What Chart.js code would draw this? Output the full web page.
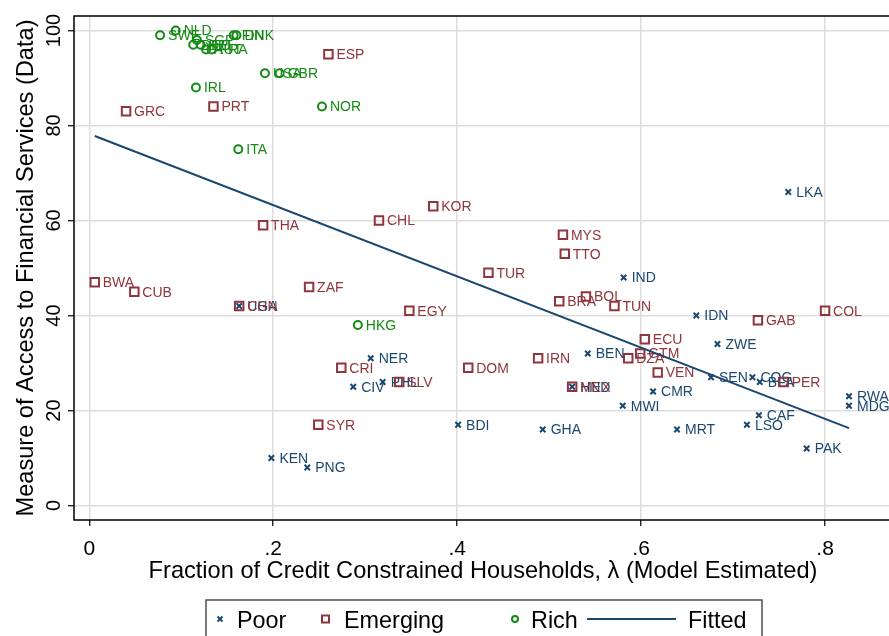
<!DOCTYPE html>
<html lang="en">
<head>
<meta charset="UTF-8" />
<title>Access to Financial Services vs. Credit Constrained Households</title>
<script src="https://cdn.jsdelivr.net/npm/chart.js"></script>
<style>
  html, body { margin: 0; padding: 0; background: #fff; }
  #wrap { width: 889px; height: 636px; }
</style>
</head>
<body>
<div id="wrap"><canvas id="myChart"></canvas></div>
<script>
// Poor economies
const poorNames = ["LKA","IND","IDN","ZWE","BEN","SEN","CMR","MWI","GHA","MRT","COG","BFA","RWA","MDG","CAF","LSO","PAK","NER","CIV","PHL","BDI","KEN","PNG","UGA","HND"];
const poorX = [0.760,0.581,0.660,0.683,0.542,0.676,0.613,0.580,0.493,0.639,0.721,0.729,0.826,0.826,0.728,0.715,0.780,0.306,0.287,0.319,0.401,0.198,0.237,0.163,0.525];
const poorY = [66,48,40,34,32,27,24,21,16,16,27,26,23,21,19,17,12,31,25,26,17,10,8,42,25];

// Emerging economies
const emergingNames = ["GRC","PRT","ESP","THA","BWA","CUB","CHN","ZAF","CHL","KOR","MYS","TTO","TUR","EGY","BRA","BOL","TUN","ECU","GTM","DZA","VEN","IRN","MEX","DOM","CRI","SLV","SYR","GAB","COL","PER"];
const emergingX = [0.040,0.135,0.260,0.189,0.006,0.049,0.163,0.239,0.315,0.374,0.515,0.517,0.434,0.348,0.511,0.540,0.571,0.604,0.599,0.586,0.618,0.488,0.525,0.412,0.274,0.337,0.249,0.727,0.800,0.755];
const emergingY = [83,84,95,59,47,45,42,46,60,63,57,53,49,41,43,44,42,35,32,31,28,31,25,29,29,26,17,39,41,26];

// Rich economies
const richNames = ["SWE","NLD","SGP","DEU","BEL","AUT","FRA","FIN","DNK","USA","GBR","IRL","NOR","ITA","HKG"];
const richX = [0.077,0.094,0.117,0.113,0.121,0.127,0.133,0.157,0.160,0.191,0.207,0.116,0.253,0.162,0.292];
const richY = [99,100,98,97,97,96,96,99,99,91,91,88,84,75,38];

// Fitted line end points
const fitX = [0.006, 0.826];
const fitY = [77.8, 16.3];

// Axis ticks
const xTicks = [0, 0.2, 0.4, 0.6, 0.8];
const xTickLabels = ["0", ".2", ".4", ".6", ".8"];
const yTicks = [0, 20, 40, 60, 80, 100];
const yTickLabels = ["0", "20", "40", "60", "80", "100"];

const NAVY = "#1a476f";
const MAROON = "#90353b";
const GREEN = "#138a13";
const FONT = '"Liberation Sans", Arial, Helvetica, sans-serif';

function toPoints(xs, ys) {
  return xs.map((x, i) => ({ x: x, y: ys[i] }));
}

// country codes next to each marker, drawn right after its own series,
// plus frame, tick labels, axis titles and the boxed legend
const decorations = {
  id: "decorations",
  afterDatasetDraw(chart, args) {
    const ds = chart.data.datasets[args.index];
    if (!ds.names) return;
    const ctx = chart.ctx;
    ctx.save();
    ctx.font = "14px " + FONT;
    ctx.fillStyle = ds.borderColor;
    ctx.textBaseline = "middle";
    ctx.textAlign = "left";
    args.meta.data.forEach((pt, i) => {
      ctx.fillText(ds.names[i], pt.x + 8, pt.y + 1);
    });
    ctx.restore();
  },
  afterDraw(chart) {
    const ctx = chart.ctx;
    const area = chart.chartArea;
    const xScale = chart.scales.x;
    const yScale = chart.scales.y;
    ctx.save();

    // plot frame (left, top, bottom)
    ctx.strokeStyle = "#000";
    ctx.lineWidth = 1.5;
    ctx.beginPath();
    ctx.moveTo(chart.width, area.top);
    ctx.lineTo(area.left, area.top);
    ctx.lineTo(area.left, area.bottom);
    ctx.lineTo(chart.width, area.bottom);
    ctx.stroke();

    ctx.fillStyle = "#000";
    ctx.textBaseline = "alphabetic";
    ctx.textAlign = "center";

    // x tick labels
    ctx.font = "21px " + FONT;
    xTicks.forEach((v, i) => {
      ctx.fillText(xTickLabels[i], xScale.getPixelForValue(v), 555);
    });

    // y tick labels, rotated like the axis title
    ctx.font = "20px " + FONT;
    yTicks.forEach((v, i) => {
      const py = yScale.getPixelForValue(v);
      ctx.save();
      ctx.translate(60, py);
      ctx.rotate(-Math.PI / 2);
      ctx.fillText(yTickLabels[i], 0, 0);
      ctx.restore();
    });

    // axis titles
    ctx.font = "23.6px " + FONT;
    ctx.save();
    ctx.translate(33, (area.top + area.bottom) / 2);
    ctx.rotate(-Math.PI / 2);
    ctx.fillText("Measure of Access to Financial Services (Data)", 0, 0);
    ctx.restore();
    ctx.fillText("Fraction of Credit Constrained Households, \u03bb (Model Estimated)", 483, 578);

    // legend box
    const ly = 619;
    ctx.strokeStyle = "#222";
    ctx.lineWidth = 1.2;
    ctx.strokeRect(206, 600, 556, 60);

    ctx.lineWidth = 2;
    ctx.strokeStyle = NAVY;
    ctx.beginPath();
    ctx.moveTo(217.5, ly - 2.5); ctx.lineTo(222.5, ly + 2.5);
    ctx.moveTo(222.5, ly - 2.5); ctx.lineTo(217.5, ly + 2.5);
    ctx.stroke();

    ctx.strokeStyle = MAROON;
    ctx.strokeRect(322, ly - 3.5, 7, 7);

    ctx.strokeStyle = GREEN;
    ctx.beginPath();
    ctx.arc(515, ly, 3, 0, Math.PI * 2);
    ctx.stroke();

    ctx.strokeStyle = NAVY;
    ctx.beginPath();
    ctx.moveTo(587, ly); ctx.lineTo(676, ly);
    ctx.stroke();

    ctx.font = "23.4px " + FONT;
    ctx.fillStyle = "#000";
    ctx.textAlign = "left";
    ctx.fillText("Poor", 237, ly + 9);
    ctx.fillText("Emerging", 344, ly + 9);
    ctx.fillText("Rich", 531, ly + 9);
    ctx.fillText("Fitted", 688, ly + 9);

    ctx.restore();
  }
};

const gridStyle = {
  color: "#dddddd",
  lineWidth: 1.5,
  tickColor: "#000",
  tickLength: 6,
  tickWidth: 1.2
};

const ctx = document.getElementById("myChart").getContext("2d");
new Chart(ctx, {
  type: "scatter",
  data: {
    datasets: [
      {
        label: "Poor",
        names: poorNames,
        data: toPoints(poorX, poorY),
        pointStyle: "crossRot",
        pointRadius: 3.8,
        pointBorderWidth: 2,
        borderColor: NAVY,
        backgroundColor: NAVY,
        order: 4
      },
      {
        label: "Emerging",
        names: emergingNames,
        data: toPoints(emergingX, emergingY),
        pointStyle: "rect",
        pointRadius: 6,
        pointBorderWidth: 2,
        borderColor: MAROON,
        backgroundColor: "rgba(0,0,0,0)",
        order: 3
      },
      {
        label: "Rich",
        names: richNames,
        data: toPoints(richX, richY),
        pointStyle: "circle",
        pointRadius: 4,
        pointBorderWidth: 2,
        borderColor: GREEN,
        backgroundColor: "rgba(0,0,0,0)",
        order: 2
      },
      {
        label: "Fitted",
        data: toPoints(fitX, fitY),
        showLine: true,
        borderColor: NAVY,
        borderWidth: 2,
        pointRadius: 0,
        order: 1
      }
    ]
  },
  options: {
    responsive: true,
    maintainAspectRatio: false,
    animation: false,
    events: [],
    layout: {
      autoPadding: false,
      padding: { top: 16, right: 0, bottom: 0, left: 0 }
    },
    plugins: {
      legend: { display: false },
      tooltip: { enabled: false }
    },
    scales: {
      x: {
        type: "linear",
        min: -0.0166,
        max: 0.8695,
        afterBuildTicks: (s) => { s.ticks = xTicks.map((v) => ({ value: v })); },
        afterFit: (s) => { s.height = 116; s.paddingLeft = 0; s.paddingRight = 0; },
        grid: gridStyle,
        border: { display: false },
        ticks: { display: false }
      },
      y: {
        type: "linear",
        min: -3.05,
        max: 103.05,
        afterBuildTicks: (s) => { s.ticks = yTicks.map((v) => ({ value: v })); },
        afterFit: (s) => { s.width = 74; s.paddingTop = 0; s.paddingBottom = 0; },
        grid: gridStyle,
        border: { display: false },
        ticks: { display: false }
      }
    }
  },
  plugins: [decorations]
});
</script>
</body>
</html>
